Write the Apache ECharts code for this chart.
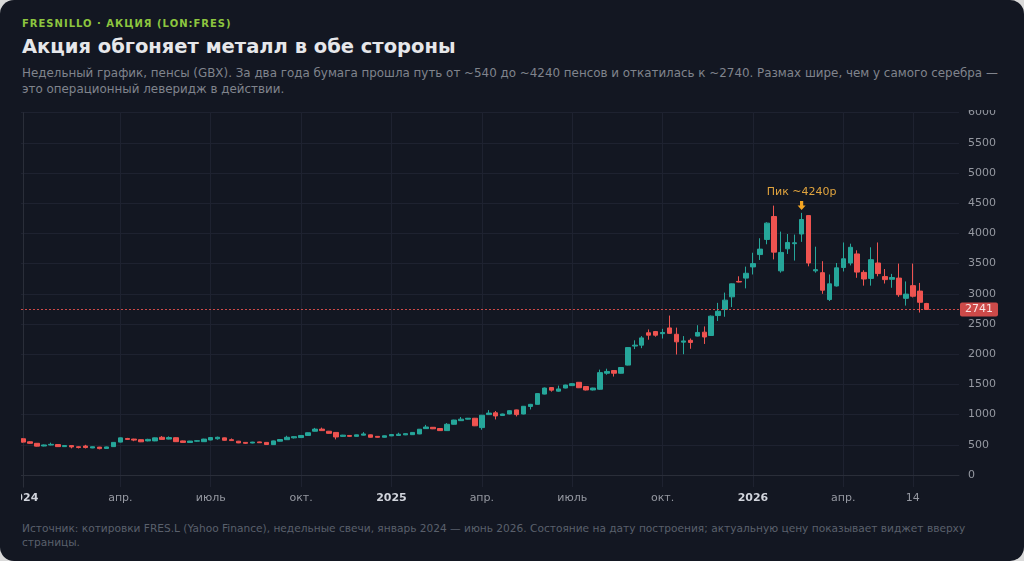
<!DOCTYPE html>
<html>
<head>
<meta charset="utf-8">
<script src="https://cdn.jsdelivr.net/npm/echarts@6/dist/echarts.min.js"></script>
<style>
html,body{margin:0;padding:0;width:1024px;height:561px;overflow:hidden;background:#d9d9d9;font-family:"DejaVu Sans",sans-serif;}
.card{position:absolute;left:0;top:0;width:1024px;height:561px;background:#131722;border-radius:14px;overflow:hidden;}
.kicker{position:absolute;left:22px;top:18px;font-size:10px;font-weight:bold;letter-spacing:1px;color:#8dc63f;white-space:nowrap;}
.title{position:absolute;left:22px;top:35px;font-size:19.5px;font-weight:bold;color:#e6e7ea;white-space:nowrap;}
.sub{position:absolute;left:22px;top:65px;width:990px;font-size:11.9px;line-height:16px;color:#80848d;}
#chart{position:absolute;left:21px;top:110px;width:1003px;height:400px;}
.foot{position:absolute;left:22px;top:521px;width:980px;font-size:10.6px;line-height:14px;color:#5a606c;}
</style>
</head>
<body>
<div class="card">
  <div class="kicker">FRESNILLO · АКЦИЯ (LON:FRES)</div>
  <div class="title">Акция обгоняет металл в обе стороны</div>
  <div class="sub">Недельный график, пенсы (GBX). За два года бумага прошла путь от ~540 до ~4240 пенсов и откатилась к ~2740. Размах шире, чем у самого серебра — это операционный леверидж в действии.</div>
  <div id="chart"></div>
  <div class="foot">Источник: котировки FRES.L (Yahoo Finance), недельные свечи, январь 2024 — июнь 2026. Состояние на дату построения; актуальную цену показывает виджет вверху страницы.</div>
</div>
<script>
// недельные свечи, пенсы
var opens = [600,550,525,480,497,505,470,487,468,480,448,462,440,470,545,605,595,585,565,565,
  625,595,618,565,538,560,552,580,600,615,585,560,540,530,548,540,503,560,585,615,
  620,655,725,760,725,705,640,655,640,660,665,640,625,648,655,665,668,680,768,790,
  770,735,840,900,925,940,785,1000,1030,985,1010,1078,1010,1135,1170,1340,1448,1388,1440,1480,
  1535,1465,1408,1420,1685,1730,1685,1820,2135,2150,2355,2375,2340,2435,2330,2200,2230,2300,2365,2310,
  2640,2740,2950,3205,3260,3445,3650,3900,4280,3380,3745,3830,3990,4295,3380,3350,2905,3130,3435,3510,
  3660,3355,3255,3510,3285,3240,3260,2925,3135,3045,2840];
var closes = [545,525,478,498,508,470,488,465,455,455,468,437,465,540,615,590,578,550,590,615,
  590,620,552,540,562,568,595,620,625,575,570,532,525,545,535,505,565,588,625,635,
  655,700,760,735,690,630,660,640,665,680,625,625,650,670,675,685,705,758,795,765,
  735,840,910,925,940,815,990,1025,978,1010,1065,1000,1138,1170,1348,1440,1405,1425,1490,1512,
  1445,1408,1440,1695,1715,1685,1780,2110,2150,2270,2315,2315,2360,2345,2205,2220,2195,2360,2285,2630,
  2710,2895,3165,3195,3340,3500,3740,4170,3690,3685,3850,3845,4230,3510,3400,3060,3165,3430,3580,3770,
  3360,3245,3565,3335,3235,3270,2985,2995,2960,2860,2741];
var lows = [535,518,472,474,492,465,465,441,440,440,444,425,436,466,540,580,560,545,558,560,
  585,590,548,535,532,552,548,575,585,570,565,528,515,525,530,500,498,555,580,605,
  612,650,720,730,685,590,635,635,635,655,620,620,620,644,650,660,664,676,762,760,
  730,730,835,895,920,810,750,995,920,980,1005,970,1005,1085,1165,1335,1380,1380,1435,1475,
  1440,1400,1400,1410,1660,1630,1680,1815,2085,2100,2240,2290,2260,2340,1995,2000,2090,2295,2170,2305,
  2550,2620,2780,3190,3090,3320,3560,3820,3570,3350,3660,3550,3860,3455,3350,3000,2880,3120,3370,3470,
  3265,3135,3135,3290,3170,3100,2950,2805,2940,2690,2735];
var highs = [610,558,530,505,535,510,492,490,475,500,472,466,470,545,620,615,600,590,600,620,
  645,640,622,570,566,575,600,628,635,620,605,565,545,550,552,545,570,592,650,642,
  660,705,780,785,730,710,665,660,668,710,670,645,655,675,700,690,710,762,830,795,
  775,860,915,960,945,945,995,1075,1060,1015,1070,1082,1142,1178,1352,1448,1455,1480,1495,1520,
  1540,1470,1445,1745,1760,1735,1785,2115,2230,2300,2410,2385,2420,2640,2440,2300,2260,2480,2460,2640,
  2850,3020,3170,3290,3450,3680,3920,4185,4460,4030,3990,3980,4340,4300,3780,3540,3320,3510,3850,3830,
  3720,3390,3770,3850,3410,3330,3500,3205,3500,3180,2850];

// подписи оси времени (номер недели -> подпись)
var tickIdx = [0, 14, 27, 40, 53, 66, 79, 92, 105, 118, 128];
var tickText = ['2024', 'апр.', 'июль', 'окт.', '2025', 'апр.', 'июль', 'окт.', '2026', 'апр.', '14'];
var yTicks = [0,500,1000,1500,2000,2500,3000,3500,4000,4500,5000,5500,6000];

var lastPrice = 2741;
var peakIdx = 112;
var peakText = 'Пик ~4240р';

var up = '#26a69a', down = '#ef5350';
var gridColor = '#1e2230';

var candles = opens.map(function (o, i) {
    return [i, o, closes[i], lows[i], highs[i]];
});

var chart = echarts.init(document.getElementById('chart'));
chart.setOption({
    animation: false,
    textStyle: {fontFamily: 'DejaVu Sans'},
    grid: {left: 0, right: 65, top: 2.6, bottom: 22.9, outerBoundsMode: 'none', containLabel: false},
    xAxis: {
        type: 'value',
        min: -0.29,
        max: 134.64,
        axisLine: {show: true, lineStyle: {color: '#2a2e39'}},
        axisTick: {show: false, customValues: tickIdx},
        axisLabel: {
            customValues: tickIdx,
            margin: 6,
            fontSize: 11,
            color: '#9598a1',
            formatter: function (v) {
                var k = tickIdx.indexOf(Math.round(v));
                var t = k >= 0 ? tickText[k] : '';
                return /^\d{4}$/.test(t) ? '{y|' + t + '}' : t;
            },
            rich: {y: {fontWeight: 'bold', color: '#d1d4dc', fontSize: 11}}
        },
        splitLine: {show: true, lineStyle: {color: gridColor}}
    },
    yAxis: {
        type: 'value',
        position: 'right',
        min: -200,
        max: 6000,
        axisLine: {show: true, lineStyle: {color: '#2a2e39'}},
        axisTick: {show: false, customValues: yTicks},
        axisLabel: {
            customValues: yTicks, color: '#9598a1', fontSize: 11, margin: 9,
            formatter: function (v) { return String(v); }
        },
        splitLine: {show: true, lineStyle: {color: gridColor}}
    },
    series: [{
        type: 'candlestick',
        data: candles,
        encode: {x: 0, y: [1, 2, 3, 4]},
        barWidth: 5,
        itemStyle: {color: up, color0: down, borderColor: up, borderColor0: down, borderWidth: 1},
        markLine: {
            silent: true,
            symbol: 'none',
            data: [{yAxis: lastPrice}],
            lineStyle: {color: down, type: [2, 2], width: 1, opacity: 0.85},
            label: {
                position: 'end', distance: 1,
                formatter: String(lastPrice),
                color: '#fff', backgroundColor: down,
                padding: [2, 5, 1, 5], fontSize: 11, borderRadius: 2
            }
        },
        markPoint: {
            silent: true,
            symbol: 'path://M3,0 L7,0 L7,5 L10,5 L5,10 L0,5 L3,5 Z',
            symbolSize: [8, 9],
            itemStyle: {color: '#f5a623'},
            data: [{coord: [peakIdx, 4463]}],
            label: {show: true, position: 'top', distance: 3, formatter: peakText, color: '#e0a33e', fontSize: 11}
        }
    }]
});
</script>
</body>
</html>
